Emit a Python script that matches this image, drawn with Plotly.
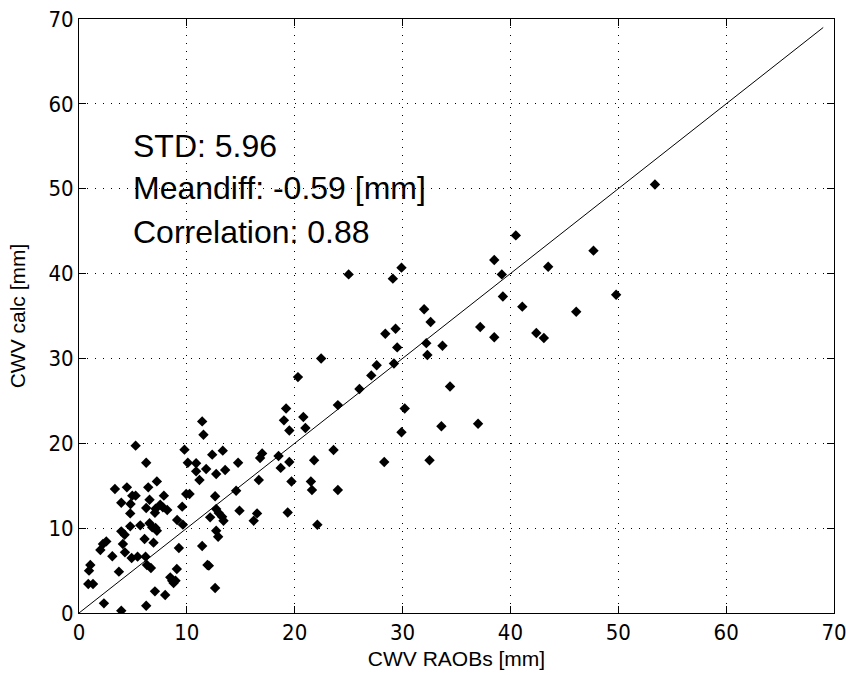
import plotly.graph_objects as go

# CWV RAOBs [mm] (x) vs CWV calc [mm] (y)
raob = [
    11.42, 11.54, 5.25, 9.78, 13.33, 12.35, 16.98, 16.79, 6.23, 10.09, 10.86, 14.75, 11.79, 13.55, 10.86, 12.72,
    11.17, 16.67, 7.22, 3.33, 4.44, 6.42, 14.57, 9.94, 10.25, 4.94, 5.25, 7.87, 12.62, 3.92, 4.78, 6.54,
    7.53, 7.78, 9.57, 6.23, 7.10, 8.18, 7.04, 4.75, 12.72, 12.96, 14.88, 16.51, 16.20, 12.16, 13.27, 13.40,
    9.10, 9.63, 5.68, 6.54, 6.79, 7.10, 7.22, 4.75, 3.92, 4.23, 12.72, 12.90, 6.08, 6.91, 4.07, 2.53,
    2.22, 1.98, 3.09, 4.26, 4.88, 5.43, 6.17, 6.30, 6.67, 9.26, 11.42, 11.91, 12.04, 9.07, 3.70, 1.05,
    0.93, 0.86, 1.30, 8.46, 8.64, 8.95, 8.77, 12.62, 7.04, 7.99, 2.31, 6.23, 3.92,
    25.0, 29.9, 29.1, 32.0, 32.6, 28.4, 29.35, 37.2, 29.5, 32.2, 33.7, 32.3, 22.45, 27.6, 29.2, 27.1,
    20.3, 34.4, 26.0, 24.0, 30.2, 19.2, 19.0, 20.8, 19.5, 20.99, 29.9, 33.6, 37.0, 23.6, 18.5, 18.7,
    19.5, 21.8, 28.3, 32.5, 19.7, 21.5, 21.6, 24.0, 19.35, 22.1,
    53.4, 40.5, 47.7, 38.5, 39.2, 43.5, 39.3, 49.8, 41.1, 46.1, 38.5, 42.4, 43.1,
]
calc = [
    22.58, 21.01, 19.72, 19.25, 19.13, 18.66, 18.81, 18.26, 17.71, 17.71, 17.64, 17.71, 16.97, 16.85, 16.69, 16.38,
    15.67, 15.67, 15.51, 14.61, 14.81, 14.81, 14.41, 14.02, 14.02, 13.83, 13.83, 13.83, 13.75, 13.00, 12.84, 13.35,
    12.77, 12.45, 12.53, 12.37, 12.29, 12.14, 11.82, 11.74, 12.25, 11.78, 12.06, 11.74, 10.88, 11.27, 11.35, 10.88,
    10.96, 10.41, 10.33, 10.57, 10.09, 10.02, 9.70, 10.21, 9.62, 9.23, 9.70, 8.99, 8.72, 8.29, 8.13, 8.44,
    8.13, 7.42, 6.68, 7.15, 6.48, 6.64, 6.64, 5.66, 5.30, 7.66, 7.89, 5.66, 5.58, 5.18, 4.87, 5.66,
    4.99, 3.42, 3.42, 4.20, 3.81, 3.81, 3.53, 2.95, 2.55, 2.12, 1.14, 0.86, 0.27,
    39.9, 40.7, 39.4, 35.8, 34.3, 32.9, 33.5, 33.7, 31.3, 31.8, 31.5, 30.4, 30.0, 29.2, 29.4, 28.0,
    27.8, 26.7, 26.4, 24.5, 24.1, 24.1, 22.7, 23.1, 21.5, 21.8, 21.3, 22.0, 22.3, 19.2, 18.5, 17.1,
    17.8, 18.0, 17.8, 18.0, 15.5, 15.5, 14.5, 14.5, 11.85, 10.4,
    50.5, 44.5, 42.7, 41.6, 39.9, 40.8, 37.3, 37.5, 36.1, 35.5, 32.5, 33.0, 32.4,
]

line_x = [0, 69]
line_y = [0, 69]

tick_vals = [0, 10, 20, 30, 40, 50, 60, 70]
tick_text = ["0", "10", "20", "30", "40", "50", "60", "70"]

stats_lines = ["STD: 5.96", "Meandiff: -0.59 [mm]", "Correlation: 0.88"]
stats_y = [55.0, 50.1, 44.9]

FONT = "Liberation Sans, Arial, sans-serif"
TICKFONT = "Liberation Sans Narrow, DejaVu Sans Condensed, Liberation Sans, sans-serif"

fig = go.Figure()
fig.add_trace(go.Scatter(x=line_x, y=line_y, mode="lines",
                         line=dict(color="black", width=1), hoverinfo="skip"))
fig.add_trace(go.Scatter(x=raob, y=calc, mode="markers",
                         marker=dict(symbol="diamond", size=8, color="black",
                                     line=dict(width=0))))

for txt, yy in zip(stats_lines, stats_y):
    fig.add_annotation(x=4.85, y=yy, text=txt, showarrow=False, xanchor="left",
                       yanchor="middle", font=dict(family=FONT, size=32, color="black"))

axis_common = dict(
    range=[0, 70], tickvals=tick_vals, ticktext=tick_text, automargin=False,
    ticklabeloverflow="allow",
    showgrid=True, gridcolor="black", gridwidth=1, griddash="1px,7px",
    showline=True, linecolor="black", linewidth=1, mirror="ticks",
    ticks="inside", ticklen=7, tickcolor="black", tickwidth=1,
    zeroline=False, tickfont=dict(family=TICKFONT, size=22, color="black"),
)

fig.update_xaxes(**axis_common, title=dict(text="CWV RAOBs [mm]", standoff=6,
                 font=dict(family=FONT, size=21, color="black")))
fig.update_yaxes(**axis_common, title=dict(text="CWV calc [mm]", standoff=17,
                 font=dict(family=FONT, size=21, color="black")))

fig.update_layout(
    width=846, height=676,
    margin=dict(l=79, r=12, t=19, b=63),
    paper_bgcolor="white", plot_bgcolor="white",
    showlegend=False,
)

fig.write_html("out.html", config={"displayModeBar": False},
               post_script="document.body.style.margin='0';")
